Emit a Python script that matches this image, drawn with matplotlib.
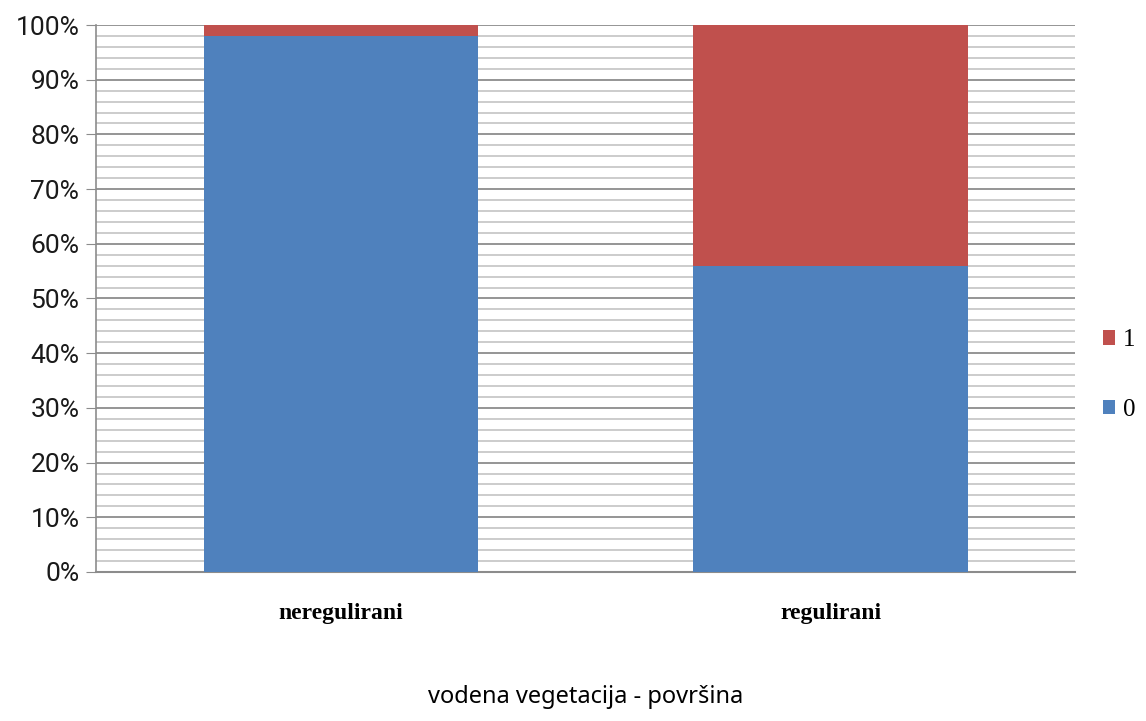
import matplotlib.pyplot as plt
from matplotlib.ticker import MultipleLocator, PercentFormatter

# data (percent of each group)
categories = ["neregulirani", "regulirani"]
share_0 = [98, 56]
share_1 = [2, 44]

blue = "#4F81BD"
red = "#C0504D"

fig = plt.figure(figsize=(11.46, 7.21), dpi=100)
ax = fig.add_axes([0.0838, 0.2067, 0.8545, 0.7586])

x = range(len(categories))
ax.bar(x, share_0, width=0.56, color=blue, label="0", zorder=3)
ax.bar(x, share_1, width=0.56, bottom=share_0, color=red, label="1", zorder=3)

ax.set_xlim(-0.5, 1.5)
ax.set_ylim(0, 100)
ax.yaxis.set_major_locator(MultipleLocator(10))
ax.yaxis.set_minor_locator(MultipleLocator(2))
ax.yaxis.set_major_formatter(PercentFormatter(decimals=0))

ax.grid(which="major", axis="y", color="#8C8C8C", linewidth=1.3, zorder=0)
ax.grid(which="minor", axis="y", color="#C8C8C8", linewidth=1.3, zorder=0)

for s in ["top", "right"]:
    ax.spines[s].set_visible(False)
ax.spines["left"].set_color("#8C8C8C")
ax.spines["bottom"].set_color("#8C8C8C")
ax.spines["left"].set_linewidth(1.2)
ax.spines["bottom"].set_linewidth(1.5)

ax.tick_params(axis="y", which="major", length=7, color="#8C8C8C", pad=5)
ax.tick_params(axis="y", which="minor", length=0)
ax.tick_params(axis="x", length=0, pad=22)

for lbl in ax.get_yticklabels():
    lbl.set_family(["Roboto", "DejaVu Sans"])
    lbl.set_fontsize(19)
    lbl.set_color("#1A1A1A")

ax.set_xticks(list(x))
ax.set_xticklabels(categories, family=["Liberation Serif"], fontweight="bold",
                   fontsize=17)

ax.set_xlabel("vodena vegetacija - površina", family=["Noto Sans", "DejaVu Sans"],
              fontsize=17, fontweight="medium", labelpad=44)

handles, labels = ax.get_legend_handles_labels()
leg = ax.legend(handles[::-1], labels[::-1], loc="center left",
                bbox_to_anchor=(1.0, 0.36), frameon=False,
                prop={"family": "Liberation Serif", "size": 18},
                handlelength=0.5, handleheight=0.5, handletextpad=0.3,
                borderaxespad=0.7, labelspacing=1.9)

fig.savefig("out.png", dpi=100)
